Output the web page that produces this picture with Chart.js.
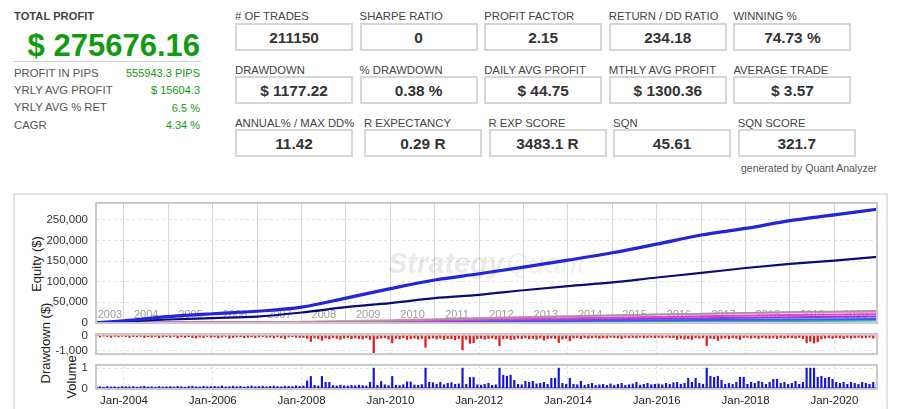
<!DOCTYPE html>
<html>
<head>
<meta charset="utf-8">
<script src="https://cdn.jsdelivr.net/npm/chart.js@4.4.1/dist/chart.umd.min.js"></script>
<style>
body { margin: 0; width: 898px; height: 409px; overflow: hidden; background: #fff; position: relative;
       font-family: "Liberation Sans", Arial, sans-serif; }
.abs { position: absolute; line-height: 1; white-space: nowrap; }
.sumlbl { left: 14px; font-size: 11.3px; color: #555; }
.sumval { left: 13px; width: 187px; text-align: right; font-size: 11px; color: #129b12; }
.glbl { font-size: 11.3px; color: #444; }
.gbox { width: 114px; height: 24px; border: 2px solid #d6d6d6; text-align: center; font-size: 15.4px;
        font-weight: bold; color: #333; line-height: 25px; }
.frame { left: 13px; top: 193px; width: 871px; height: 240px; border: 2px solid #e2e2e2; }
.ytitle { font-size: 13px; color: #222; transform: translate(-50%, -50%) rotate(-90deg); }
.wrap { position: absolute; left: 0; width: 898px; }
</style>
</head>
<body>
<div class="abs" style="left:14px;top:11px;font-size:11.2px;font-weight:bold;color:#444">TOTAL PROFIT</div>
<div class="abs" style="left:13px;top:30px;width:187px;text-align:right;font-size:31px;font-weight:bold;color:#129b12">$ 275676.16</div>
<div class="abs" style="left:13px;top:61px;width:188px;border-top:1px solid #d0d0d0"></div>
<div id="summary"></div>
<div id="grid"></div>
<div class="abs" style="left:741px;top:163px;font-size:10.5px;color:#555">generated by Quant Analyzer</div>

<div class="abs frame"></div>
<div class="abs ytitle" style="left:36px;top:264px">Equity ($)</div>
<div class="abs ytitle" style="left:45px;top:343px">Drawdown ($)</div>
<div class="abs ytitle" style="left:71px;top:377px">Volume</div>

<div class="wrap" style="top:188px;height:150px"><canvas id="equityChart"></canvas></div>
<div class="wrap" style="top:319px;height:50px"><canvas id="ddChart"></canvas></div>
<div class="wrap" style="top:350px;height:59px"><canvas id="volChart"></canvas></div>

<script>
var summaryLabels = ['PROFIT IN PIPS', 'YRLY AVG PROFIT', 'YRLY AVG % RET', 'CAGR'];
var summaryValues = ['555943.3 PIPS', '$ 15604.3', '6.5 %', '4.34 %'];

var gridLabels = [
    ['# OF TRADES', 'SHARPE RATIO', 'PROFIT FACTOR', 'RETURN / DD RATIO', 'WINNING %'],
    ['DRAWDOWN', '% DRAWDOWN', 'DAILY AVG PROFIT', 'MTHLY AVG PROFIT', 'AVERAGE TRADE'],
    ['ANNUAL% / MAX DD%', 'R EXPECTANCY', 'R EXP SCORE', 'SQN', 'SQN SCORE']
];
var gridValues = [
    ['211150', '0', '2.15', '234.18', '74.73 %'],
    ['$ 1177.22', '0.38 %', '$ 44.75', '$ 1300.36', '$ 3.57'],
    ['11.42', '0.29 R', '3483.1 R', '45.61', '321.7']
];

// equity curves (year, $)
var equityYears = [2003.37, 2004, 2005, 2006, 2007, 2008, 2009, 2010, 2011, 2012, 2013, 2014, 2015, 2016, 2017, 2018, 2019, 2020, 2020.96];
var equityTotal = [0, 5000, 15000, 22000, 28000, 38000, 60000, 83000, 104000, 119000, 135000, 152000, 170000, 191000, 213000, 229000, 248000, 262000, 275676];
var equityMain = [0, 3000, 8000, 11500, 15000, 25000, 38000, 48000, 60000, 68000, 79000, 89000, 98000, 110000, 121000, 133000, 143000, 151000, 160000];

var symbolYears = [2003.37, 2007, 2010, 2013, 2016, 2019, 2020.96];
var symbolGray = [0, 500, 5000, 13000, 20000, 26000, 29000];
var symbolPink = [0, 1000, 6000, 14000, 20000, 25000, 27000];
var symbolMagenta = [0, 800, 4000, 9000, 14000, 19000, 21000];
var symbolPurple = [0, 500, 3000, 7000, 10000, 13500, 15500];
var symbolBlue = [0, 300, 1500, 4000, 6000, 8000, 9000];
var symbolTeal = [0, 200, 800, 2000, 3500, 4500, 5500];

// monthly, from May 2003
var monthStart = 2003 + 4 / 12;
var drawdownMonthly = [
    -40, -90, -30, -60, -110, -50, -80, -40,
    -70, -120, -60, -90, -50, -130, -80, -100, -60, -140, -90, -70,
    -110, -60, -150, -80, -120, -70, -130, -160, -90, -140, -60, -110,
    -80, -150, -100, -60, -170, -120, -90, -70, -140, -110, -80, -130,
    -90, -60, -120, -100, -150, -80, -140, -210, -90, -70, -110, -130,
    -120, -180, -390, -150, -200, -320, -160, -220, -140, -190, -250, -170,
    -130, -210, -160, -190, -230, -140, -260, -1177, -200, -170, -150, -230,
    -490, -180, -220, -150, -260, -200, -170, -240, -190, -790, -210, -160,
    -230, -170, -260, -190, -210, -280, -200, -965, -250, -520, -480, -220,
    -180, -240, -200, -160, -230, -670, -210, -190, -260, -240, -170, -200,
    -150, -210, -180, -240, -160, -300, -200, -170, -190, -470, -220, -180,
    -350, -160, -140, -210, -130, -170, -150, -120, -180, -140, -160, -110,
    -130, -150, -200, -110, -140, -120, -160, -100, -150, -130, -110, -140,
    -120, -150, -100, -140, -130, -250, -180, -230, -200, -260, -150, -170,
    -140, -670, -180, -200, -320, -190, -160, -210, -150, -180, -260, -140,
    -120, -170, -140, -190, -130, -160, -180, -150, -200, -140, -170, -130,
    -150, -180, -130, -200, -490, -380, -500, -420, -220, -170, -150, -190,
    -140, -160, -200, -130, -170, -150, -120, -160, -140, -110, -170, -130
];
var volumeMonthly = [
    0.07, 0.08, 0.06, 0.09, 0.07, 0.08, 0.06, 0.09,
    0.08, 0.07, 0.09, 0.06, 0.08, 0.1, 0.07, 0.08, 0.06, 0.09, 0.07, 0.08,
    0.09, 0.07, 0.1, 0.08, 0.06, 0.09, 0.11, 0.08, 0.07, 0.1, 0.08, 0.09,
    0.1, 0.08, 0.12, 0.07, 0.09, 0.11, 0.08, 0.1, 0.07, 0.09, 0.12, 0.08,
    0.09, 0.11, 0.08, 0.1, 0.12, 0.09, 0.08, 0.11, 0.1, 0.09, 0.13, 0.1,
    0.12, 0.37, 0.59, 0.15, 0.12, 0.59, 0.3, 0.3, 0.14, 0.12, 0.16, 0.13,
    0.12, 0.15, 0.13, 0.16, 0.14, 0.12, 0.3, 1.0, 0.15, 0.34, 0.18, 0.14,
    0.59, 0.16, 0.14, 0.18, 0.32, 0.32, 0.17, 0.15, 0.19, 1.0, 0.3, 0.28,
    0.2, 0.3, 0.18, 0.25, 0.28, 0.2, 0.22, 1.0, 0.2, 0.54, 0.54, 0.18,
    0.16, 0.2, 0.25, 0.15, 0.18, 1.0, 0.65, 0.6, 0.65, 0.4, 0.2, 0.18,
    0.35, 0.3, 0.35, 0.22, 0.25, 0.3, 0.2, 0.5, 0.5, 1.0, 0.25, 0.2,
    0.5, 0.2, 0.18, 0.35, 0.15, 0.2, 0.25, 0.15, 0.18, 0.2, 0.15, 0.22,
    0.15, 0.2, 0.25, 0.15, 0.18, 0.22, 0.3, 0.16, 0.2, 0.25, 0.18, 0.2,
    0.22, 0.18, 0.25, 0.2, 0.28, 0.3, 0.2, 0.25, 0.5, 0.3, 0.5, 0.25,
    0.2, 1.0, 0.6, 0.55, 0.6, 0.4, 0.2, 0.25, 0.2, 0.3, 0.55, 0.55,
    0.2, 0.3, 0.25, 0.35, 0.3, 0.2, 0.3, 0.45, 0.45, 0.25, 0.3, 0.2,
    0.25, 0.35, 0.2, 0.3, 1.0, 1.0, 1.0, 0.55, 0.6, 0.5, 0.55, 0.45,
    0.3, 0.25, 0.3, 0.2, 0.3, 0.25, 0.2, 0.3, 0.25, 0.2, 0.3, 0.2
];
// dense small trades seen as a solid band along the base of each panel
var floorYears = [2003.37, 2020.96];
var drawdownFloor = [-25, -25];
var volumeFloor = [0.04, 0.04];

var yearLabels = [2003, 2004, 2005, 2006, 2007, 2008, 2009, 2010, 2011, 2012, 2013, 2014, 2015, 2016, 2017, 2018, 2019, 2020];
var dateTicks = [2004, 2006, 2008, 2010, 2012, 2014, 2016, 2018, 2020];
var equityTicks = [0, 50000, 100000, 150000, 200000, 250000];
var drawdownTicks = [-1000, 0];
var volumeTicks = [0, 1];

var xMin = 2003.37, xMax = 2020.96;
var FONT = '"Liberation Sans", Arial, sans-serif';

// header blocks
(function () {
    var html = '';
    summaryLabels.forEach(function (label, i) {
        var top = 67.8 + i * 17.3;
        html += '<div class="abs sumlbl" style="top:' + top + 'px">' + label + '</div>';
        html += '<div class="abs sumval" style="top:' + (top + 0.3) + 'px">' + summaryValues[i] + '</div>';
    });
    document.getElementById('summary').innerHTML = html;

    html = '';
    gridLabels.forEach(function (row, r) {
        row.forEach(function (label, c) {
            var left = 235 + c * 124.6 + (r === 2 && c > 0 ? 4.3 : 0);
            html += '<div class="abs glbl" style="left:' + left + 'px;top:' + (11.2 + r * 53.3) + 'px">' + label + '</div>';
            html += '<div class="abs gbox" style="left:' + left + 'px;top:' + (22.7 + r * 53) + 'px">' + gridValues[r][c] + '</div>';
        });
    });
    document.getElementById('grid').innerHTML = html;
})();

function toPoints(xs, ys) {
    return ys.map(function (v, i) { return { x: xs[i], y: v }; });
}
function monthPoints(values) {
    return values.map(function (v, i) { return { x: monthStart + (i + 0.5) / 12, y: v }; });
}
function fixedTicks(values) {
    return function (scale) {
        scale.ticks = values.map(function (v) { return { value: v }; });
    };
}

var panelFrame = {
    id: 'panelFrame',
    afterDraw: function (chart) {
        var a = chart.chartArea, c = chart.ctx;
        c.save();
        c.strokeStyle = '#c9c9c9';
        c.lineWidth = 2;
        c.strokeRect(a.left, a.top, a.right - a.left, a.bottom - a.top);
        c.restore();
    }
};

var equityDeco = {
    id: 'equityDeco',
    beforeDatasetsDraw: function (chart) {
        var a = chart.chartArea, c = chart.ctx, xs = chart.scales.x;
        var cx = (a.left + a.right) / 2, cy = (a.top + a.bottom) / 2 + 2;
        c.save();
        c.textBaseline = 'middle';
        c.font = 'bold italic 29px ' + FONT;
        var w1 = c.measureText('Strategy').width;
        c.font = 'italic 29px ' + FONT;
        var w2 = c.measureText('Quant').width;
        var x0 = cx - (w1 + w2 + 2) / 2;
        c.textAlign = 'left';
        c.fillStyle = 'rgba(0,0,0,0.085)';
        c.font = 'bold italic 29px ' + FONT;
        c.fillText('Strategy', x0, cy);
        c.fillStyle = 'rgba(0,0,0,0.06)';
        c.font = 'italic 29px ' + FONT;
        c.fillText('Quant', x0 + w1 + 2, cy);

        c.font = '11px ' + FONT;
        c.fillStyle = '#9d9d9d';
        c.textAlign = 'center';
        yearLabels.forEach(function (y) {
            var l = xs.getPixelForValue(Math.max(y, xMin));
            var r = xs.getPixelForValue(Math.min(y + 1, xMax));
            c.fillText(String(y), (l + r) / 2, a.bottom - 8);
        });
        c.restore();
    }
};

function xAxis(tickValues, solid, showLabels) {
    return {
        type: 'linear', min: xMin, max: xMax, offset: false,
        afterBuildTicks: fixedTicks(tickValues),
        afterFit: function (s) { s.height = showLabels ? 20 : 0; },
        grid: { color: solid ? '#d6d6d6' : '#e0e0e0', drawTicks: false, offset: false },
        border: { display: false, dash: solid ? [] : [3, 3] },
        ticks: {
            display: showLabels, autoSkip: false, maxRotation: 0,
            padding: 5, color: '#222', font: { size: 11.5, family: FONT },
            callback: function (v) { return 'Jan-' + v; }
        }
    };
}
function yAxis(min, max, tickValues) {
    return {
        min: min, max: max,
        afterBuildTicks: fixedTicks(tickValues),
        afterFit: function (s) { s.width = 96; },
        grid: { color: '#e2e2e2', drawTicks: false },
        border: { display: false, dash: [3, 3] },
        ticks: {
            padding: 8, color: '#333', font: { size: 11.5, family: FONT },
            callback: function (v) { return Number(v).toLocaleString('en-US'); }
        }
    };
}
function baseOptions(padding, x, y) {
    return {
        responsive: true, maintainAspectRatio: false, animation: false,
        layout: { padding: padding },
        plugins: { legend: { display: false }, tooltip: { enabled: false } },
        scales: { x: x, y: y }
    };
}

Chart.defaults.font.family = FONT;

function line(data, color, width) {
    return { data: data, borderColor: color, borderWidth: width, pointRadius: 0, cubicInterpolationMode: 'monotone', fill: false };
}
function floorBand(data, color) {
    return { type: 'line', data: data, borderColor: color, backgroundColor: color, borderWidth: 0, pointRadius: 0, fill: 'origin' };
}

var allYears = yearLabels.slice(1);

new Chart(document.getElementById('equityChart'), {
    type: 'line',
    data: {
        datasets: [
            line(toPoints(equityYears, equityTotal), '#2424d8', 3.2),
            line(toPoints(equityYears, equityMain), '#0a0a78', 2.2),
            line(toPoints(symbolYears, symbolGray), '#9a9a9a', 1.5),
            line(toPoints(symbolYears, symbolPink), '#f28cb0', 2),
            line(toPoints(symbolYears, symbolMagenta), '#e040d8', 2),
            line(toPoints(symbolYears, symbolPurple), '#8a3ee0', 2),
            line(toPoints(symbolYears, symbolBlue), '#3a5cf0', 2),
            line(toPoints(symbolYears, symbolTeal), '#3fb0b0', 2)
        ]
    },
    options: baseOptions({ left: 0, right: 21, top: 12, bottom: 12 }, xAxis(allYears, true, false), yAxis(-700, 291000, equityTicks)),
    plugins: [equityDeco, panelFrame]
});

new Chart(document.getElementById('ddChart'), {
    type: 'bar',
    data: { datasets: [
        { data: monthPoints(drawdownMonthly), backgroundColor: '#e41b1b', barThickness: 1.6 },
        floorBand(toPoints(floorYears, drawdownFloor), '#e41b1b')
    ] },
    options: baseOptions({ left: 0, right: 21, top: 12, bottom: 12 }, xAxis(dateTicks, false, false), yAxis(-1250, 120, drawdownTicks)),
    plugins: [panelFrame]
});

new Chart(document.getElementById('volChart'), {
    type: 'bar',
    data: { datasets: [
        { data: monthPoints(volumeMonthly), backgroundColor: '#1414d8', barThickness: 1.5 },
        floorBand(toPoints(floorYears, volumeFloor), '#1414d8')
    ] },
    options: baseOptions({ left: 0, right: 21, top: 12, bottom: 0 }, xAxis(dateTicks, false, true), yAxis(-0.03, 1.16, volumeTicks)),
    plugins: [panelFrame]
});
</script>
</body>
</html>
